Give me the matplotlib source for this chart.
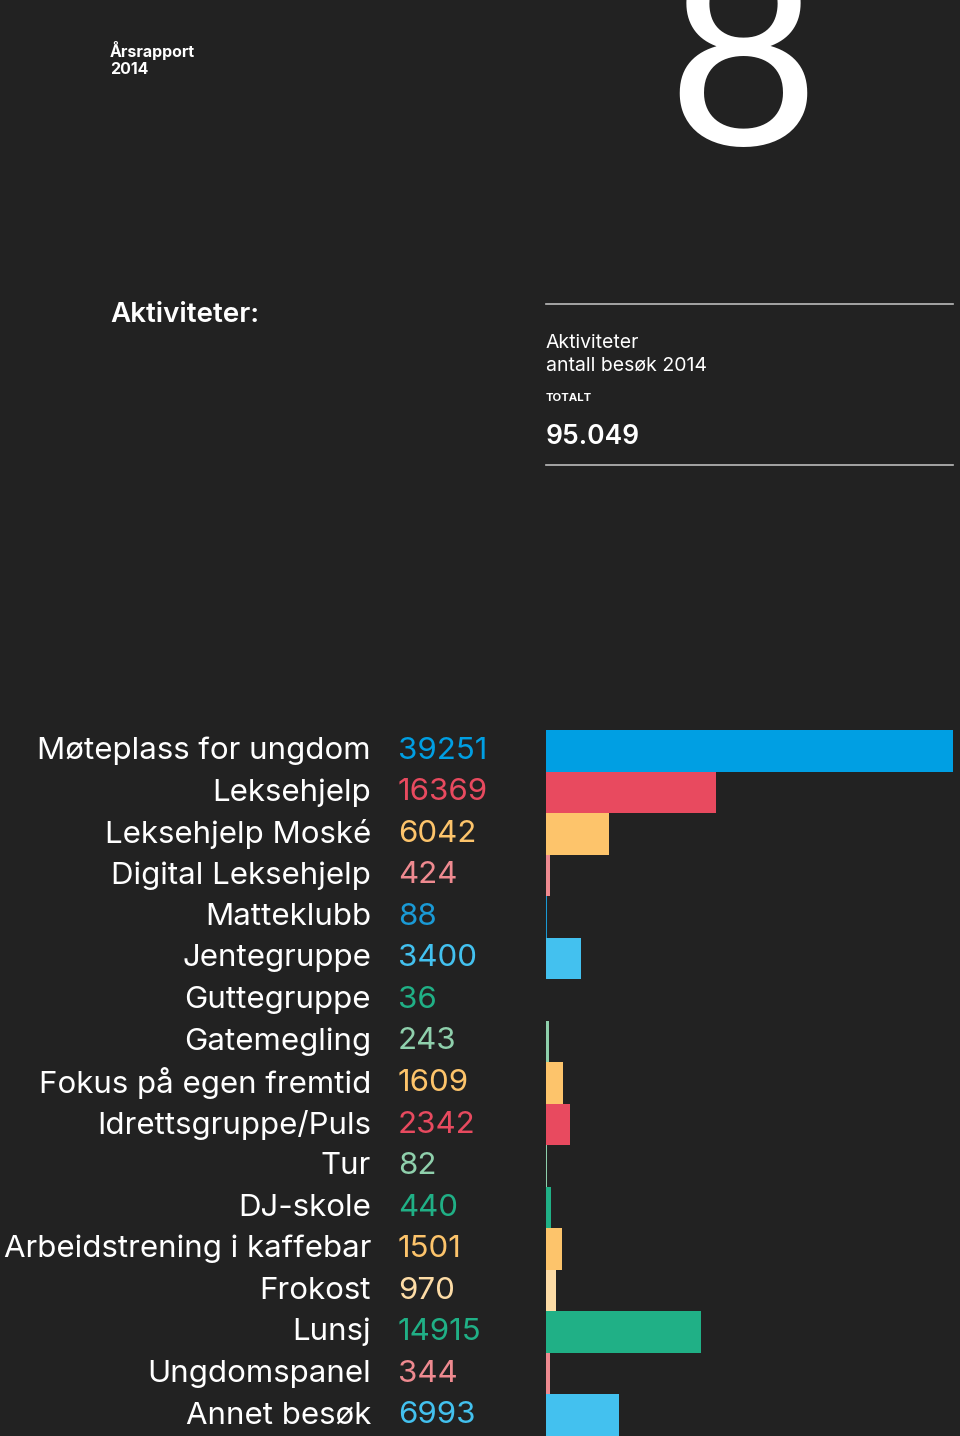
import matplotlib.pyplot as plt
from matplotlib.transforms import blended_transform_factory

categories = ['Møteplass for ungdom', 'Leksehjelp', 'Leksehjelp Moské',
              'Digital Leksehjelp', 'Matteklubb', 'Jentegruppe', 'Guttegruppe',
              'Gatemegling', 'Fokus på egen fremtid', 'Idrettsgruppe/Puls', 'Tur',
              'DJ-skole', 'Arbeidstrening i kaffebar', 'Frokost', 'Lunsj',
              'Ungdomspanel', 'Annet besøk']
visits = [39251, 16369, 6042, 424, 88, 3400, 36, 243, 1609, 2342, 82,
          440, 1501, 970, 14915, 344, 6993]
colors = ['#009fe3', '#e84a5f', '#fdc46b', '#ef8a90', '#1a9ad6', '#43c1ef',
          '#20b086', '#8fd0ac', '#fdc46b', '#e84a5f', '#8fd0ac', '#20b086',
          '#fdc46b', '#fddca6', '#20b086', '#ef8a90', '#43c1ef']
total = '95.049'

BG = '#222222'
FONT = ['Inter', 'DejaVu Sans']
W, H = 960, 1436

fig = plt.figure(figsize=(9.6, 14.36), dpi=100, facecolor=BG)


def fx(px):
    return px / W


def fy(py):
    return 1 - py / H


# header
fig.text(fx(110), fy(51), 'Årsrapport', color='white', fontsize=11.5,
         fontweight='bold', family=FONT, va='center')
fig.text(fx(110), fy(70), '2014', color='white', fontsize=11.5,
         fontweight='bold', family=FONT, va='center')
fig.text(fx(743), fy(145), '8', color='white', fontsize=190,
         family=['Lato', 'DejaVu Sans'], ha='center', va='baseline')
fig.text(fx(110), fy(315), 'Aktiviteter:', color='white', fontsize=20,
         fontweight='semibold', family=FONT, va='center')

# info box
for yy in (304, 465):
    fig.add_artist(plt.Line2D([fx(546), fx(953)], [fy(yy), fy(yy)],
                              color='#bbbbbb', lw=1.2))
fig.text(fx(546), fy(343), 'Aktiviteter', color='white', fontsize=14,
         family=FONT, va='center')
fig.text(fx(546), fy(366), 'antall besøk 2014', color='white', fontsize=14,
         family=FONT, va='center')
fig.text(fx(546), fy(398), 'TOTALT', color='white', fontsize=8.2,
         fontweight='bold', family=FONT, va='center')
fig.text(fx(546), fy(437), total, color='white', fontsize=19,
         fontweight='semibold', family=FONT, va='center')

# bars
ax = fig.add_axes([fx(546), 0, fx(953) - fx(546), fy(730)])
ax.set_facecolor(BG)
ypos = list(range(len(visits)))
ax.barh(ypos, visits, height=1.0, color=colors, align='center')
ax.set_xlim(0, max(visits))
ax.set_ylim(len(visits) - 0.5, -0.5)
ax.axis('off')

tr = blended_transform_factory(fig.transFigure, ax.transData)
for i, (cat, v, c) in enumerate(zip(categories, visits, colors)):
    ax.text(fx(371), i, cat, transform=tr, ha='right', va='center',
            color='white', fontsize=22.5, family=FONT)
    ax.text(fx(398), i, str(v), transform=tr, ha='left', va='center',
            color=c, fontsize=22.5, family=FONT)

fig.savefig('out.png', dpi=100, facecolor=BG)
